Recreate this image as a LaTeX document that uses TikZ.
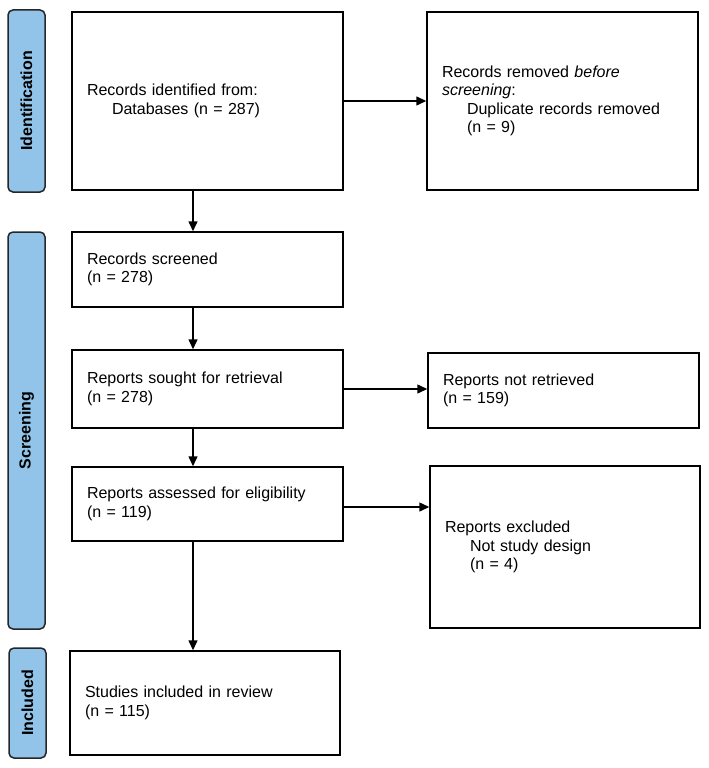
\documentclass[tikz,border=0pt]{standalone}
\usepackage{fontspec}
\setmainfont{Liberation Sans}
\usetikzlibrary{arrows.meta}
\definecolor{tabblue}{RGB}{145,196,232}
\tikzset{
  box/.style={draw=black, line width=1.5pt, rectangle, align=left, inner xsep=15pt, inner ysep=0pt,
    font=\fontsize{16}{18.5}\selectfont, anchor=center},
  tab/.style={draw=black!85, line width=1.5pt, fill=tabblue, rounded corners=5pt, rectangle},
  tabtext/.style={rotate=90, font=\fontsize{16}{18}\selectfont\bfseries},
  arr/.style={line width=1.5pt, -{Triangle[length=10pt,width=9pt]}}
}
\newcommand{\ind}{\hspace*{25pt}}
\begin{document}
\begin{tikzpicture}[x=1pt,y=-1pt]
\useasboundingbox (0,0) rectangle (709,768);
% tabs
\node[tab, minimum width=37pt, minimum height=182pt] (t1) at (26.5,101) {};
\node[tabtext] (t1t) at (t1.center) {Identification};
\node[tab, minimum width=37pt, minimum height=397pt] (t2) at (26.5,430.5) {};
\node[tabtext] (t2t) at (t2.center) {Screening};
\node[tab, minimum width=37pt, minimum height=110pt] (t3) at (27.5,703) {};
\node[tabtext] (t3t) at (t3.center) {Included};
% boxes
\node[box, text width=241pt, minimum height=178pt] (A) at (207.5,101) {Records identified from:\\\ind Databases (n = 287)};
\node[box, text width=241pt, minimum height=178pt] (B) at (562.5,101) {Records removed \textit{before}\\\textit{screening}:\\\ind Duplicate records removed\\\ind (n = 9)};
\node[box, text width=241pt, minimum height=75pt] (C) at (207.5,269.5) {Records screened\\(n = 278)};
\node[box, text width=241pt, minimum height=78pt] (D) at (207.5,389) {Reports sought for retrieval\\(n = 278)};
\node[box, text width=241pt, minimum height=75pt] (E) at (563.5,390.5) {Reports not retrieved\\(n = 159)};
\node[box, text width=241pt, minimum height=74pt] (F) at (207.5,504) {Reports assessed for eligibility\\(n = 119)};
\node[box, text width=240pt, minimum height=162pt] (G) at (565,547) {Reports excluded\\\ind Not study design\\\ind (n = 4)};
\node[box, text width=240pt, minimum height=104pt] (H) at (205,703) {Studies included in review\\(n = 115)};
% connectors
\coordinate (vx) at (193,0);
\draw[arr] (A.east) -- (A.east -| B.west);
\draw[arr] (D.east) -- (D.east -| E.west);
\coordinate (fy) at (0,507);
\draw[arr] (F.east |- fy) -- (G.west |- fy);
\draw[arr] (A.south -| vx) -- (C.north -| vx);
\draw[arr] (C.south -| vx) -- (D.north -| vx);
\draw[arr] (D.south -| vx) -- (F.north -| vx);
\draw[arr] (F.south -| vx) -- (H.north -| vx);
\end{tikzpicture}
\end{document}
